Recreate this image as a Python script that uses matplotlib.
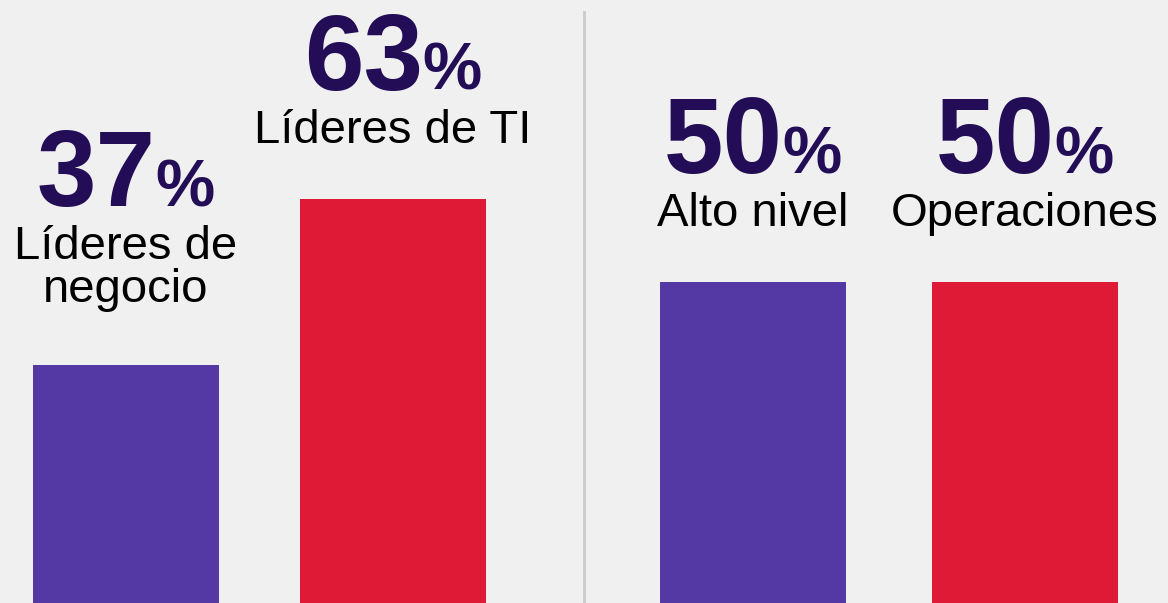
import matplotlib.pyplot as plt
from matplotlib.transforms import offset_copy

# data
labels = ['Líderes de\nnegocio', 'Líderes de TI', 'Alto nivel', 'Operaciones']
values = [37, 63, 50, 50]
colors = ['#5438a4', '#df1a37', '#5438a4', '#df1a37']

# layout (pixel units)
x_pos = [125.5, 393, 752.5, 1024.5]
bar_w = 186
num_color = '#230d57'
bg = '#f0f0f0'

plt.rcParams['font.family'] = ['Liberation Sans', 'DejaVu Sans']

fig = plt.figure(figsize=(11.68, 6.03), dpi=100)
fig.patch.set_facecolor(bg)
ax = fig.add_axes([0, 0, 1, 1])
ax.set_facecolor(bg)
ax.set_xlim(0, 1168)
ax.set_ylim(0, 603 / 6.42)
ax.axis('off')

ax.bar(x_pos, values, width=bar_w, color=colors)

# divider between the two groups
ax.axvline(584, ymin=0, ymax=1 - 12 / 603, color='#cccccc', lw=2)

r = fig.canvas.get_renderer()
for x, v, lab in zip(x_pos, values, labels):
    n = lab.count('\n')
    # baseline of the last label line above the bar top
    yb = 56 + 7 * n
    tr = offset_copy(ax.transData, fig=fig, x=0, y=yb, units='dots')
    ax.text(x, v, lab, transform=tr, ha='center', va='baseline',
            fontsize=34, linespacing=0.98, color='black')

    # big number + smaller percent sign, centred together
    yn = yb + 43 * n + 53
    tn = ax.text(0, 0, str(v), fontsize=77, fontweight='bold', color=num_color)
    tp = ax.text(0, 0, '%', fontsize=48, fontweight='bold', color=num_color)
    wn = tn.get_window_extent(r).width
    wp = tp.get_window_extent(r).width
    split = (wn - wp) / 2
    tn.set_transform(offset_copy(ax.transData, fig=fig, x=split, y=yn, units='dots'))
    tn.set_position((x, v))
    tn.set_ha('right')
    tn.set_va('baseline')
    tp.set_transform(offset_copy(ax.transData, fig=fig, x=split, y=yn, units='dots'))
    tp.set_position((x, v))
    tp.set_ha('left')
    tp.set_va('baseline')

fig.savefig('out.png', dpi=100, facecolor=bg)
